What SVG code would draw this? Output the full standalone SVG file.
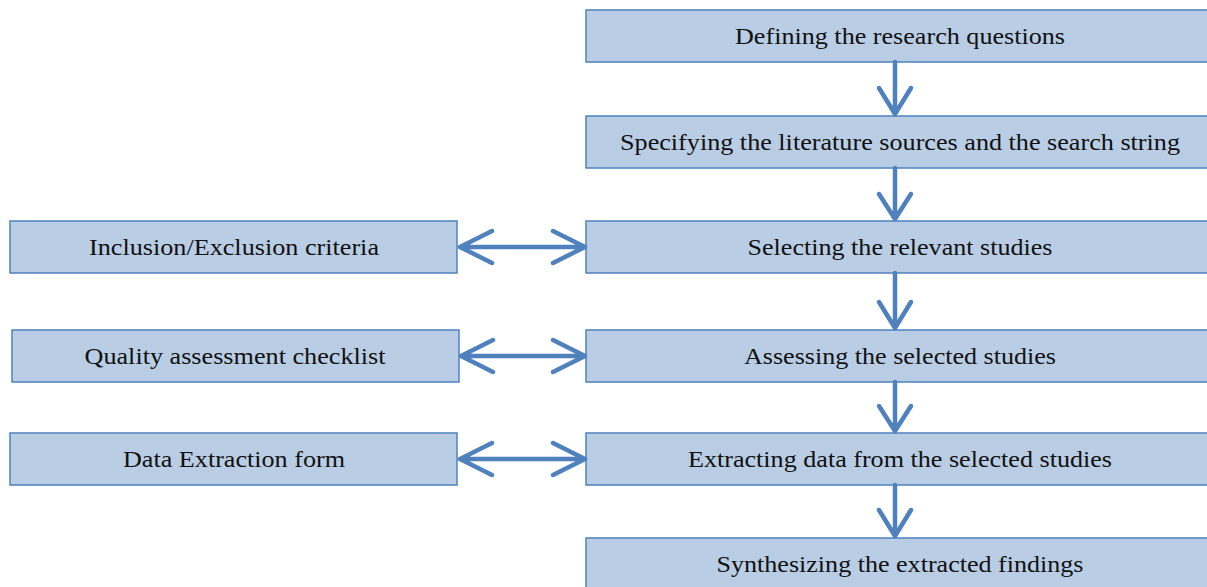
<svg xmlns="http://www.w3.org/2000/svg" width="1207" height="587" viewBox="0 0 1207 587">
<style>
.box{fill:#b9cde5;stroke:#4f81bd;stroke-width:1.5}
.t{font-family:"Liberation Serif","Times New Roman",serif;font-size:24px;fill:#111;text-anchor:middle}
.c{fill:none;stroke:#4f81bd;stroke-width:4.5;stroke-linecap:round;stroke-linejoin:round}
</style>
<rect width="1207" height="587" fill="#fff"/>
<g id="n1"><rect class="box" x="586" y="10" width="622" height="52"/><text class="t" x="900" y="44" textLength="330" lengthAdjust="spacingAndGlyphs">Defining the research questions</text></g>
<g id="n2"><rect class="box" x="586" y="116" width="622" height="52"/><text class="t" x="900" y="150" textLength="560" lengthAdjust="spacingAndGlyphs">Specifying the literature sources and the search string</text></g>
<g id="n3"><rect class="box" x="586" y="221" width="622" height="52"/><text class="t" x="900" y="255" textLength="305" lengthAdjust="spacingAndGlyphs">Selecting the relevant studies</text></g>
<g id="n4"><rect class="box" x="586" y="330" width="622" height="52"/><text class="t" x="900" y="364" textLength="312" lengthAdjust="spacingAndGlyphs">Assessing the selected studies</text></g>
<g id="n5"><rect class="box" x="586" y="433" width="622" height="52"/><text class="t" x="900" y="467" textLength="424" lengthAdjust="spacingAndGlyphs">Extracting data from the selected studies</text></g>
<g id="n6"><rect class="box" x="586" y="538" width="622" height="60"/><text class="t" x="900" y="572" textLength="367" lengthAdjust="spacingAndGlyphs">Synthesizing the extracted findings</text></g>
<g id="l1"><rect class="box" x="10" y="221" width="447" height="52"/><text class="t" x="234" y="255" textLength="290" lengthAdjust="spacingAndGlyphs">Inclusion/Exclusion criteria</text></g>
<g id="l2"><rect class="box" x="12" y="330" width="447" height="52"/><text class="t" x="235" y="364" textLength="301" lengthAdjust="spacingAndGlyphs">Quality assessment checklist</text></g>
<g id="l3"><rect class="box" x="10" y="433" width="447" height="52"/><text class="t" x="234" y="467" textLength="222" lengthAdjust="spacingAndGlyphs">Data Extraction form</text></g>
<g id="connectors">
<path class="c" d="M895 62V114M879 88L895 114L911 88"/>
<path class="c" d="M895 168V219M879 194L895 219L911 194"/>
<path class="c" d="M895 273V328M879 302L895 328L911 302"/>
<path class="c" d="M895 382V431M879 406L895 431L911 406"/>
<path class="c" d="M895 485V536M879 510L895 536L911 510"/>
<path class="c" d="M460 247H585M492 231L460 247L492 263M553 231L585 247L553 263"/>
<path class="c" d="M461 356H585M493 340L461 356L493 372M553 340L585 356L553 372"/>
<path class="c" d="M460 459H585M492 443L460 459L492 475M553 443L585 459L553 475"/>
</g>
</svg>
